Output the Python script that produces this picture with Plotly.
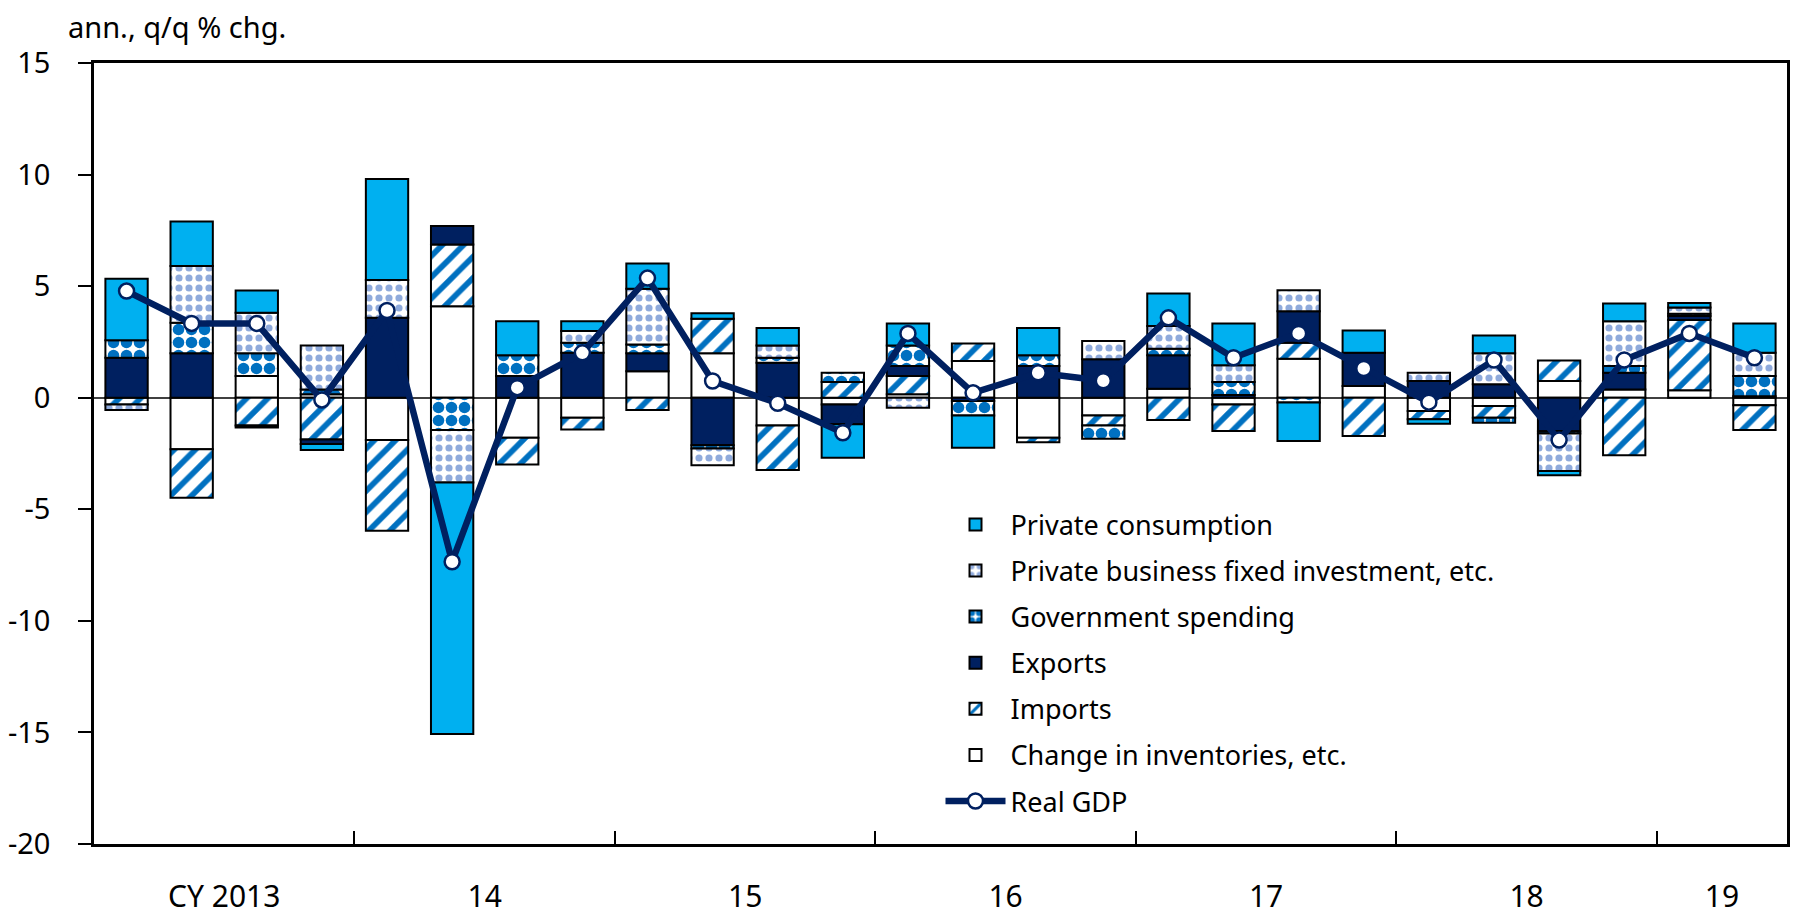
import plotly.graph_objects as go

quarters = ["2013Q1", "2013Q2", "2013Q3", "2013Q4",
            "2014Q1", "2014Q2", "2014Q3", "2014Q4",
            "2015Q1", "2015Q2", "2015Q3", "2015Q4",
            "2016Q1", "2016Q2", "2016Q3", "2016Q4",
            "2017Q1", "2017Q2", "2017Q3", "2017Q4",
            "2018Q1", "2018Q2", "2018Q3", "2018Q4",
            "2019Q1", "2019Q2"]

private_consumption = [2.75, 2.0, 1.0, -0.27, 4.53, -11.27, 1.53, 0.44,
                       1.13, 0.24, 0.78, -1.5, 0.99, -1.44, 1.22, 0.0,
                       1.46, 1.88, -1.72, 1.0, -0.2, 0.8, -0.2, 0.79,
                       0.2, 1.32]
private_investment = [-0.25, 2.54, 1.82, 1.97, 1.69, -2.35, 0.0, 0.53,
                      2.49, -0.75, 0.55, 0.0, -0.45, 0.0, 0.0, 0.82,
                      1.02, 0.75, 0.94, 0.0, 0.37, 1.39, -1.68, 2.01,
                      0.28, 1.04]
government = [0.79, 1.37, 1.02, 0.22, 0.0, -1.45, 0.93, 0.45,
              0.4, -0.15, 0.22, 0.42, 0.92, -0.65, 0.48, -0.6,
              0.29, 0.58, -0.22, 0.0, 0.0, -0.22, -0.1, 0.3,
              0.1, 0.9]
exports = [1.79, 1.99, -0.1, -0.2, 3.58, 0.82, 0.97, 2.01,
           0.8, -2.13, 1.57, -0.89, 0.45, -0.15, 1.42, 1.72,
           1.5, 0.12, 1.42, 1.49, 0.75, 0.6, -1.5, 0.75,
           0.18, 0.07]
imports = [-0.3, -2.17, -1.24, -1.87, -4.06, 2.77, -1.2, -0.52,
           -0.55, 1.55, -2.0, 0.7, 0.82, 0.79, -0.21, -0.44,
           -1.0, -1.19, 0.71, -1.72, -0.37, -0.53, 0.92, -2.58,
           3.14, -1.11]
inventories = [0.0, -2.31, 0.97, 0.15, -1.9, 4.1, -1.79, -0.9,
               1.19, 1.99, -1.24, -0.3, 0.15, 1.64, -1.79, -0.8,
               0.4, -0.3, 1.75, 0.52, -0.6, -0.37, 0.75, 0.37,
               0.34, -0.34]
real_gdp = [4.78, 3.33, 3.33, -0.1, 3.91, -7.35, 0.45, 2.01,
            5.36, 0.75, -0.25, -1.57, 2.88, 0.22, 1.12, 0.76,
            3.58, 1.79, 2.88, 1.31, -0.2, 1.69, -1.9, 1.69,
            2.88, 1.79]

year_names = ["2013", "2014", "2015", "2016", "2017", "2018", "2019"]
year_labels = ["CY 2013", "14", "15", "16", "17", "18", "19"]
y_ticks = [-20, -15, -10, -5, 0, 5, 10, 15]

FONT = "Noto Sans"
x = list(range(len(quarters)))


def nz(vals):
    return [v if v != 0 else None for v in vals]


# tick positions derived from the quarter list
year_centers = []
for yname in year_names:
    idx = [i for i, q in enumerate(quarters) if q.startswith(yname)]
    year_centers.append(sum(idx) / len(idx))
boundaries = [i - 0.5 for i in range(1, len(quarters)) if quarters[i][:4] != quarters[i - 1][:4]]

outline = dict(color="black", width=2)


def pat(shape, fg, size, solidity):
    return dict(shape=shape, fgcolor=fg, bgcolor="white", size=size,
                solidity=solidity, fillmode="overlay", fgopacity=1)


series = [
    ("Change in inventories, etc.", inventories, dict(color="white", line=outline), 6),
    ("Imports", imports, dict(color="white", line=outline,
                              pattern=pat("/", "#0070C0", 15, 0.38)), 5),
    ("Exports", exports, dict(color="#002060", line=outline), 4),
    ("Government spending", government, dict(color="white", line=outline,
                                             pattern=pat(".", "#0070C0", 13, 0.62)), 3),
    ("Private business fixed investment, etc.", private_investment,
     dict(color="white", line=outline, pattern=pat(".", "#8FAADC", 10, 0.4)), 2),
    ("Private consumption", private_consumption, dict(color="#00B0F0", line=outline), 1),
]

fig = go.Figure()
for name, vals, marker, rank in series:
    fig.add_trace(go.Bar(x=x, y=nz(vals), name=name, marker=marker,
                         legendrank=rank, legendgroup=name))

fig.add_trace(go.Scatter(x=x, y=real_gdp, name="Real GDP", mode="lines+markers",
                         line=dict(color="#002060", width=6.5),
                         marker=dict(size=15, color="white", line=dict(color="#002060", width=2.5)),
                         legendrank=7, legendgroup="gdp"))

fig.update_layout(
    width=1800, height=916,
    barmode="relative", bargap=0.35,
    plot_bgcolor="white", paper_bgcolor="white",
    margin=dict(l=86, r=21, t=55, b=80),
    font=dict(family=FONT, size=27, color="black"),
    showlegend=True,
    legend=dict(x=0.5, y=0.44, xanchor="left", yanchor="top",
                bgcolor="rgba(0,0,0,0)", font=dict(family=FONT, size=27),
                tracegroupgap=8, itemwidth=60),
    annotations=[dict(text="ann., q/q % chg.", xref="paper", yref="paper",
                      x=-0.016, y=1.021, xanchor="left", yanchor="bottom",
                      showarrow=False, borderpad=0, font=dict(family=FONT, size=29))],
)

fig.update_xaxes(range=[-0.5, len(quarters) - 0.5], automargin=False,
                 tickmode="array", tickvals=year_centers, ticktext=year_labels,
                 ticks="", showgrid=False, zeroline=False,
                 showline=True, linecolor="black", linewidth=2.5, mirror=True,
                 tickfont=dict(family=FONT, size=30), ticklabelstandoff=24,
                 minor=dict(tickmode="array", tickvals=boundaries, ticks="inside",
                            ticklen=13, tickwidth=2, tickcolor="black", showgrid=False))

fig.update_yaxes(range=[-20, 15], automargin=False,
                 tickmode="array", tickvals=y_ticks, ticktext=[str(v) for v in y_ticks],
                 ticks="outside", ticklen=13, tickwidth=2, tickcolor="black",
                 showgrid=False, zeroline=True, zerolinecolor="#404040", zerolinewidth=1.5,
                 showline=True, linecolor="black", linewidth=2.5, mirror=True,
                 tickfont=dict(family=FONT, size=29), ticklabelstandoff=22)

fig.write_html("out.html")
